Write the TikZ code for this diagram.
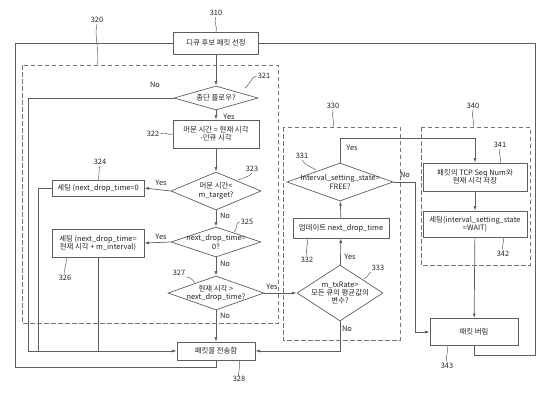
\documentclass[tikz,border=0pt]{standalone}
\usepackage{fontspec}
\setmainfont{Noto Sans CJK KR}
\usetikzlibrary{shapes.geometric,arrows.meta}
\definecolor{ln}{HTML}{5E5E5E}
\definecolor{tx}{HTML}{222222}
\begin{document}
\begin{tikzpicture}[x=1pt,y=-1pt,
  every node/.style={font=\fontsize{7.4}{8.4}\selectfont, text=tx},
  box/.style={draw=ln, line width=0.7pt, rectangle, inner sep=0pt, align=center},
  dia/.style={draw=ln, line width=0.7pt, diamond, inner sep=0pt},
  txt/.style={align=center, inner sep=0pt},
  grp/.style={draw=ln!85, dash pattern=on 4.5pt off 2.5pt, line width=0.6pt},
  con/.style={draw=ln, line width=0.7pt},
  arr/.style={con, -{Latex[length=4.5pt,width=3pt]}},
  lead/.style={draw=ln, line width=0.5pt},
  num/.style={inner sep=1pt},
  yn/.style={inner sep=1pt},
]
\useasboundingbox (0,0) rectangle (543,400);

% group boxes
\draw[grp] (22,65) rectangle (278,323);
\draw[grp] (283,127) rectangle (400,340);
\draw[grp] (421,127) rectangle (530,265);

% main nodes
\node[box, minimum width=85, minimum height=22] (n310) at (216,43) {디큐 후보 패킷 선정};
\node[dia, minimum width=84, minimum height=24] (d321) at (216,98) {};
\node[txt] (t321) at (d321) {종단 플로우?};
\node[box, minimum width=86, minimum height=28] (b322) at (216,134) {머문 시간 = 현재 시각\\-인큐 시각};
\node[dia, minimum width=90, minimum height=38] (d323) at (216,191) {};
\node[txt] (t323) at (d323) {머문 시간<\\m\_target?};
\node[box, minimum width=92, minimum height=16] (b324) at (98,188) {세팅 (next\_drop\_time=0};
\node[dia, minimum width=90, minimum height=30] (d325) at (216,242) {};
\node[txt] (t325) at (d325) {next\_drop\_time=\\0?};
\node[box, minimum width=92, minimum height=28] (b326) at (98,243) {세팅 (next\_drop\_time=\\현재 시각 + m\_interval)};
\node[dia, minimum width=96, minimum height=34] (d327) at (216,293) {};
\node[txt] (t327) at (d327) {현재 시각 >\\next\_drop\_time?};
\node[box, minimum width=78, minimum height=18] (b328) at (216,351) {패킷을 전송함};

\node[dia, minimum width=106, minimum height=38] (d331) at (340,182) {};
\node[txt] (t331) at (d331) {Interval\_setting\_state=\\FREE?};
\node[box, minimum width=96, minimum height=20] (b332) at (341,228) {업데이트 next\_drop\_time};
\node[dia, minimum width=86, minimum height=56] (d333) at (340,293) {};
\node[txt] (t333) at (d333) {m\_txRate>\\모든 큐의 평균값의\\변수?};

\node[box, minimum width=104, minimum height=28] (b341) at (475,177) {패킷의 TCP Seq Num와\\현재 시각 저장};
\node[box, minimum width=104, minimum height=26] (b342) at (475,224) {세팅(interval\_setting\_state\\=WAIT)};
\node[box, minimum width=88, minimum height=27] (b343) at (474,332) {패킷 버림};

% junction coordinates
\coordinate (lp) at (15,367);
\coordinate (rp) at (535,355);
\coordinate (j1) at (28,351);
\coordinate (j2) at (38,351);
\coordinate (j3) at (98,351);
\coordinate (ty) at (340,138);
\coordinate (tn) at (415,332);

% connectors
\draw[arr] (n310) -- (d321);
\draw[arr] (d321) -- (b322);
\draw[arr] (d321.west) -| (j1) -- (b328.west);
\draw[arr] (b322) -- (d323);
\draw[arr] (d323.west) -- (b324.east);
\draw[arr] (d323) -- (d325);
\draw[arr] (d325.west) -- (b326.east);
\draw[arr] (d325) -- (d327);
\draw[arr] (d327) -- (b328);
\draw[arr] (d327.east) -- (d333.west);
\draw[con] (b324.west) -| (j2);
\draw[con] (b326.south) -- (j3);
\draw[con] (b328.south) |- (lp) |- (n310.west);
\draw[con] (b343.south) |- (rp) |- (n310.east);

\draw[arr] (d333) -- (b332);
\draw[arr] (b332) -- (d331);
\draw[arr] (d331.north) -- (ty) -| (b341.north);
\draw[arr] (d331.east) -| (tn) -- (b343.west);
\draw[arr] (d333.south) |- (b328.east);
\draw[arr] (b341) -- (b342);
\draw[arr] (b342) -- (b343);

% yes / no labels
\node[yn] (y321) at (229,117) {Yes};
\node[yn] (n321) at (155,85) {No};
\node[yn] (y323) at (161,183) {Yes};
\node[yn] (n323) at (225,216) {No};
\node[yn] (y325) at (161,237) {Yes};
\node[yn] (n325) at (225,264) {No};
\node[yn] (y327) at (272,287) {Yes};
\node[yn] (n327) at (225,316) {No};
\node[yn] (y331) at (352,148) {Yes};
\node[yn] (n331) at (405,175) {No};
\node[yn] (y333) at (350,257) {Yes};
\node[yn] (n333) at (347,329) {No};

% reference numerals
\node[num] (l310) at (216,13) {310};
\node[num] (l320) at (97,20) {320};
\node[num] (l321) at (264,76) {321};
\node[num] (l322) at (153,134) {322};
\node[num] (l323) at (252,169) {323};
\node[num] (l324) at (100,162) {324};
\node[num] (l325) at (247,222) {325};
\node[num] (l326) at (65,278) {326};
\node[num] (l327) at (179,273) {327};
\node[num] (l328) at (239,379) {328};
\node[num] (l330) at (333,106) {330};
\node[num] (l340) at (473,106) {340};
\node[num] (l331) at (302,156) {331};
\node[num] (l332) at (307,260) {332};
\node[num] (l333) at (378,268) {333};
\node[num] (l341) at (500,145) {341};
\node[num] (l342) at (503,254) {342};
\node[num] (l343) at (447,366) {343};

% leaders
\draw[lead] (l310.south) .. controls +(-3,4) and +(2,-4) .. (216,32);
\draw[lead] (l320.south) .. controls +(-3,12) and +(3,-12) .. (97,65);
\draw[lead] (l321.west) .. controls +(-6,1) and +(5,-3) .. (245,88);
\draw[lead] (l322.east) .. controls +(4,-3) and +(-4,2) .. (173,134);
\draw[lead] (l323.south) .. controls +(-2,4) and +(4,-2) .. (238,180);
\draw[lead] (l324.south) .. controls +(-2,5) and +(2,-5) .. (98,180);
\draw[lead] (l325.west) .. controls +(-5,1) and +(4,-3) .. (234,232);
\draw[lead] (l326.north) .. controls +(-2,-6) and +(2,6) .. (66,257);
\draw[lead] (l327.south east) .. controls +(5,1) and +(-3,-4) .. (195,283);
\draw[lead] (l328.north) .. controls +(-2,5) and +(2,4) .. (239,360);
\draw[lead] (l330.south) .. controls +(-2,7) and +(2,-6) .. (333,127);
\draw[lead] (l340.south) .. controls +(-2,7) and +(2,-6) .. (473,127);
\draw[lead] (l331.south) .. controls +(2,5) and +(-4,-3) .. (316,170);
\draw[lead] (l332.north) .. controls +(-2,-7) and +(2,6) .. (307,238);
\draw[lead] (l333.south west) .. controls +(-3,3) and +(4,-2) .. (364,279);
\draw[lead] (l341.south) .. controls +(-2,6) and +(2,-5) .. (500,163);
\draw[lead] (l342.north) .. controls +(-2,-6) and +(2,6) .. (503,237);
\draw[lead] (l343.north) .. controls +(-2,-6) and +(2,6) .. (447,346);
\end{tikzpicture}
\end{document}
